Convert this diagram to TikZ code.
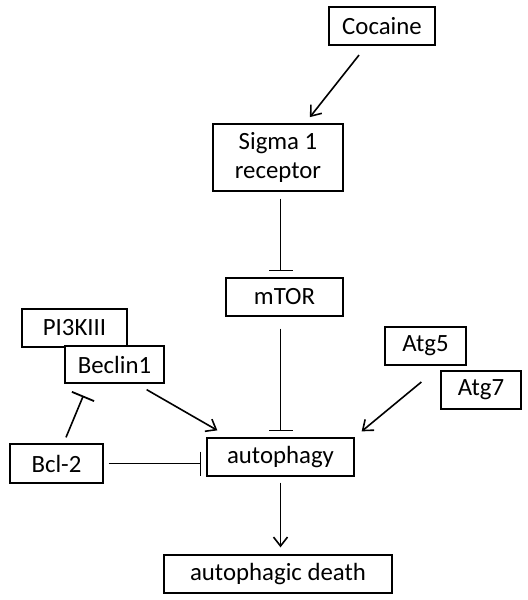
\documentclass[tikz,border=0pt]{standalone}
\usepackage{fontspec}
\setmainfont{Carlito}
\usepackage{tikz}
\usetikzlibrary{arrows.meta}
\usepackage{xcolor}

\begin{document}
\begin{tikzpicture}[x=0.5pt, y=-0.5pt,
    box/.style={rectangle, draw, fill=white, line width=0.65pt, minimum height=19pt, inner sep=0pt, font=\fontsize{12.4}{14.5}\selectfont},
    act/.style={line width=0.8pt, -{Straight Barb[length=4.5pt, width=7pt]}},
    inhibit/.style={line width=0.8pt, -{Bar[width=12pt, line width=0.9pt]}}]

          % Frame
          \useasboundingbox (0,0) rectangle (527,600);

          % Rectangles
          \node[box, minimum width=53pt] (coc) at (382,26) {Cocaine};
          \node[box, minimum width=65pt, minimum height=33.5pt, align=center] (sig) at (278,157.5) {Sigma 1\\receptor};
          \node[box, minimum width=58.5pt] (mtor) at (284.5,297) {mTOR};
          \node[box, minimum width=73.5pt] (aut) at (280.5,457) {autophagy};
          \node[box, minimum width=40.5pt] (atgf) at (425.5,346) {Atg5};
          \node[box, minimum width=40pt] (atgs) at (481,390) {Atg7};
          \node[box, minimum width=52.5pt] (pik) at (74.5,328) {PI3KIII};
          \node[box, minimum width=49.5pt, minimum height=18.5pt] (bec) at (114.5,364.5) {Beclin1};
          \node[box, minimum width=46.5pt, minimum height=19.5pt] (bcl) at (56.5,463.5) {Bcl-2};
          \node[box, minimum width=114pt] (death) at (278,574) {autophagic death};

          % Activating arrows
          \draw[act, shorten <=6pt, shorten >=4pt] (coc) -- (sig);
          \draw[act] ([shift={(-18,6)}]bec.south east) -- ([shift={(11,-7)}]aut.north west);
          \draw[act] ([shift={(-19,-8)}]atgs.west) -- ([shift={(7,-6)}]aut.north east);
          \draw[act, shorten <=3pt, shorten >=3.5pt] (aut.south) -- (aut.south |- death.north);

          % Inhibiting arrows
          \draw[inhibit, shorten <=3.5pt, shorten >=3pt] (sig.south -| aut.north) -- (mtor.north -| aut.north);
          \draw[inhibit, shorten <=6pt, shorten >=3pt] (mtor.south -| aut.north) -- (aut.north);
          \draw[inhibit, shorten <=2.5pt, shorten >=2.5pt] (bcl.east) -- (bcl.east -| aut.west);
          \draw[inhibit, shorten >=0pt] ([shift={(9.5,-6)}]bcl.north) -- ([shift={(19,12)}]bec.south west);

        \end{tikzpicture}
\end{document}
